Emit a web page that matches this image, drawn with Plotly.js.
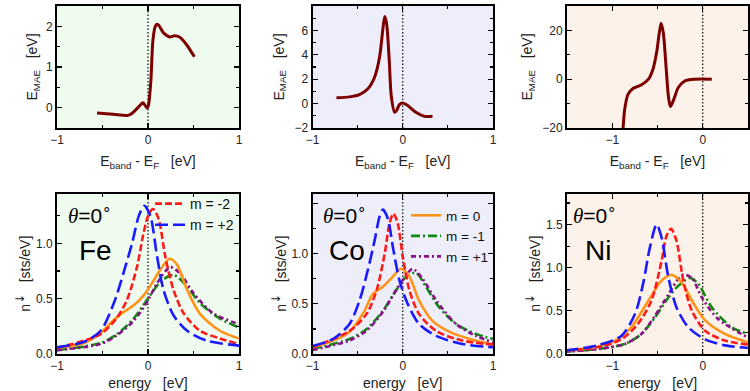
<!DOCTYPE html>
<html>
<head>
<meta charset="utf-8">
<script src="https://cdn.plot.ly/plotly-3.0.1.min.js"></script>
<style>html,body{margin:0;padding:0;background:#fff}#chart{width:750px;height:391px}</style>
</head>
<body>
<div id="chart"></div>
<script>
// ---- Top row: E_MAE vs E_band - E_F ----
const feMaeX = [-0.56,-0.385,-0.22,-0.17,-0.09,-0.055,-0.03,-0.01,0.005,0.03,0.055,0.08,0.1,0.12,0.17,0.24,0.29,0.35,0.42,0.51];
const feMaeY = [-0.13,-0.16,-0.19,-0.13,0.05,0.12,0.05,-0.01,0.06,0.61,1.68,2.0,2.05,2.02,1.84,1.74,1.77,1.73,1.56,1.25];
const coMaeX = [-0.735,-0.59,-0.48,-0.386,-0.31,-0.255,-0.225,-0.2,-0.18,-0.15,-0.127,-0.09,-0.065,-0.037,0,0.055,0.145,0.24,0.33];
const coMaeY = [0.47,0.55,0.74,1.21,2.2,3.9,5.8,7.13,6.6,3.6,0.6,-0.71,-0.52,-0.08,0.05,-0.16,-0.71,-1.04,-1.04];
const niMaeX = [-0.895,-0.88,-0.862,-0.825,-0.77,-0.68,-0.6,-0.55,-0.51,-0.48,-0.46,-0.436,-0.406,-0.38,-0.358,-0.325,-0.27,-0.196,-0.085,0.1];
const niMaeY = [-26,-19.7,-12.2,-6.1,-3.8,-2.4,0,4.1,10.9,19,22.9,19,5.4,-6.8,-11.2,-8.8,-3.4,-0.7,0,0];

// ---- Bottom row: n_down vs energy ----
// Fe
const feP2X = [-1,-0.70,-0.52,-0.375,-0.27,-0.175,-0.10,-0.04,0.025,0.1,0.17,0.28,0.43,0.645,1];
const feP2Y = [0.06,0.11,0.21,0.46,0.73,1.0,1.25,1.34,1.25,0.88,0.58,0.35,0.21,0.12,0.076];
const feM2X = [-1,-0.52,-0.34,-0.23,-0.12,-0.047,0.007,0.055,0.117,0.19,0.28,0.39,0.57,0.79,1];
const feM2Y = [0.055,0.18,0.33,0.49,0.79,1.1,1.26,1.31,1.22,0.88,0.58,0.37,0.21,0.14,0.09];
const fe0X = [-1,-0.70,-0.52,-0.41,-0.3,-0.157,-0.047,0.044,0.135,0.237,0.317,0.43,0.57,0.79,1];
const fe0Y = [0.055,0.1,0.19,0.28,0.36,0.44,0.53,0.64,0.76,0.86,0.81,0.58,0.365,0.21,0.14];
const feM1X = [-1,-0.52,-0.34,-0.157,-0.01,0.135,0.28,0.43,0.57,0.79,1];
const feM1Y = [0.035,0.1,0.18,0.32,0.49,0.65,0.715,0.61,0.46,0.32,0.24];
const feP1X = [-1,-0.52,-0.34,-0.157,-0.01,0.1,0.245,0.35,0.5,0.72,1];
const feP1Y = [0.035,0.09,0.17,0.3,0.47,0.64,0.785,0.73,0.55,0.365,0.27];
// Co
const coP2X = [-1,-0.77,-0.59,-0.48,-0.386,-0.31,-0.257,-0.22,-0.165,-0.11,-0.037,0.055,0.18,0.37,0.66,1];
const coP2Y = [0.08,0.15,0.30,0.53,0.84,1.14,1.37,1.44,1.35,1.07,0.735,0.5,0.3,0.18,0.1,0.067];
const coM2X = [-1,-0.59,-0.4,-0.29,-0.2,-0.147,-0.103,-0.055,0,0.074,0.18,0.37,0.66,1];
const coM2Y = [0.067,0.23,0.4,0.635,1.0,1.3,1.40,1.3,0.97,0.635,0.4,0.23,0.134,0.094];
const co0X = [-1,-0.77,-0.59,-0.43,-0.33,-0.22,-0.11,-0.02,0.074,0.18,0.33,0.52,0.74,1];
const co0Y = [0.067,0.134,0.22,0.42,0.6,0.67,0.77,0.85,0.77,0.535,0.33,0.22,0.15,0.094];
const coM1X = [-1,-0.59,-0.4,-0.22,-0.074,0.037,0.147,0.257,0.4,0.59,0.81,1];
const coM1Y = [0.05,0.15,0.25,0.43,0.635,0.77,0.81,0.67,0.47,0.3,0.2,0.15];
const coP1X = [-1,-0.59,-0.4,-0.22,-0.074,0.037,0.11,0.22,0.37,0.59,0.81,1];
const coP1Y = [0.04,0.134,0.234,0.42,0.635,0.785,0.85,0.75,0.535,0.3,0.18,0.117];
// Ni
const niP2X = [-1.52,-1.16,-0.9,-0.75,-0.66,-0.585,-0.51,-0.455,-0.38,-0.29,-0.16,0.026,0.25,0.5];
const niP2Y = [0.04,0.1,0.21,0.46,0.81,1.23,1.5,1.35,0.89,0.54,0.31,0.17,0.1,0.07];
const niM2X = [-1.52,-1.16,-0.9,-0.715,-0.567,-0.455,-0.4,-0.35,-0.29,-0.215,-0.12,0.026,0.25,0.5];
const niM2Y = [0.04,0.08,0.17,0.35,0.62,1.08,1.37,1.45,1.31,0.85,0.5,0.27,0.154,0.11];
const ni0X = [-1.52,-1.16,-0.97,-0.79,-0.6,-0.455,-0.345,-0.233,-0.12,0.026,0.25,0.5];
const ni0Y = [0.04,0.085,0.154,0.31,0.62,0.85,0.915,0.83,0.62,0.39,0.23,0.135];
const niM1X = [-1.52,-1.16,-0.86,-0.68,-0.53,-0.38,-0.27,-0.14,-0.048,0.1,0.32,0.5];
const niM1Y = [0.027,0.058,0.116,0.23,0.42,0.655,0.79,0.88,0.81,0.54,0.31,0.23];
const niP1X = [-1.52,-1.16,-0.86,-0.68,-0.53,-0.38,-0.27,-0.215,-0.12,-0.01,0.17,0.5];
const niP1Y = [0.027,0.058,0.116,0.23,0.44,0.69,0.87,0.92,0.88,0.655,0.405,0.19];

// tick labels of the n-down axes
const dosTickVals = [0, 0.5, 1.0, 1.5];
const dosTickText = ['0.0','0.5','1.0','1.5'];
const coDosTickText = ['0.0','0.5','1.0',''];

const legendNames = ['m = -2','m = +2','m = 0','m = -1','m = +1'];
const panelLabels = ['Fe','Co','Ni'];
const angleLabel = '<span style="font-family:Liberation Serif"><i>θ</i></span>=0<sup>∘</sup>';

const styles = {
  m2:  {color:'#ff1a1a', width:2.6, dash:'7px,3px'},
  p2:  {color:'#1a1aff', width:2.6, dash:'13px,5px'},
  z:   {color:'#ff9419', width:2.6},
  m1:  {color:'#118a11', width:2.6, dash:'9px,3px,2px,3px'},
  p1:  {color:'#8a108a', width:2.6, dash:'5px,3px,2px,3px'}
};
const maeLine = {color:'#7d0000', width:3};

function tr(x,y,xa,ya,line,name,leg,show,rank){
  const t = {x:x,y:y,xaxis:xa,yaxis:ya,type:'scatter',mode:'lines',
    line:Object.assign({shape:'spline',smoothing:0.8},line),
    name:name,showlegend:!!show,legend:leg||'legend',hoverinfo:'skip'};
  if (rank) t.legendrank = rank;
  return t;
}

const data = [
  tr(feMaeX,feMaeY,'x','y',maeLine,'Fe'),
  tr(coMaeX,coMaeY,'x2','y2',maeLine,'Co'),
  tr(niMaeX,niMaeY,'x3','y3',maeLine,'Ni'),
  // Fe
  tr(feM1X,feM1Y,'x4','y4',styles.m1,legendNames[3]),
  tr(feP1X,feP1Y,'x4','y4',styles.p1,legendNames[4]),
  tr(fe0X,fe0Y,'x4','y4',styles.z,legendNames[2]),
  tr(feM2X,feM2Y,'x4','y4',styles.m2,legendNames[0],'legend',true,1),
  tr(feP2X,feP2Y,'x4','y4',styles.p2,legendNames[1],'legend',true,2),
  // Co
  tr(coM1X,coM1Y,'x5','y5',styles.m1,legendNames[3],'legend2',true,2),
  tr(coP1X,coP1Y,'x5','y5',styles.p1,legendNames[4],'legend2',true,3),
  tr(co0X,co0Y,'x5','y5',styles.z,legendNames[2],'legend2',true,1),
  tr(coM2X,coM2Y,'x5','y5',styles.m2,legendNames[0]),
  tr(coP2X,coP2Y,'x5','y5',styles.p2,legendNames[1]),
  // Ni
  tr(niM1X,niM1Y,'x6','y6',styles.m1,legendNames[3]),
  tr(niP1X,niP1Y,'x6','y6',styles.p1,legendNames[4]),
  tr(ni0X,ni0Y,'x6','y6',styles.z,legendNames[2]),
  tr(niM2X,niM2Y,'x6','y6',styles.m2,legendNames[0]),
  tr(niP2X,niP2Y,'x6','y6',styles.p2,legendNames[1])
];

const W = 750, H = 391;
const colX = [[57,239],[312.5,493],[567,748]];
const rowTop = [6,128], rowBot = [193.5,354];
const dx = c => [colX[c][0]/W, colX[c][1]/W];
const dy = r => [1 - r[1]/H, 1 - r[0]/H];

const FONT = 'Liberation Sans, Arial, sans-serif';
const tickFont = {family:FONT, size:12, color:'#222'};
const titleFont = {family:FONT, size:14, color:'#222'};
function ax(domain, anchor, range, dtick, minor, title, standoff, extra){
  return Object.assign({domain:domain, anchor:anchor, range:range, dtick:dtick, tick0:0,
    ticks:'inside', ticklen:5, tickwidth:1.2, tickcolor:'#000',
    minor:{dtick:minor, ticks:'inside', ticklen:3, tickwidth:1.2, tickcolor:'#000', showgrid:false},
    showline:true, linewidth:2, linecolor:'#000', mirror:'ticks',
    showgrid:false, zeroline:false, tickfont:tickFont, fixedrange:true,
    title:{text:title, font:titleFont, standoff:standoff}}, extra||{});
}
const xTitleTop = 'E<sub>band</sub> - E<sub>F</sub>\u00a0\u00a0\u00a0[eV]';
const xTitleBot = 'energy\u00a0\u00a0\u00a0[eV]';
const yTitleTop = 'E<sub>MAE</sub>\u00a0\u00a0\u00a0[eV]';
const yTitleBot = 'n<sup><span style="font-family:DejaVu Sans;font-size:12px">↓</span></sup>\u00a0\u00a0\u00a0[sts/eV]';

const bgColors = ['#effbee','#eeeefb','#fdf2ea'];

const layout = {
  width:W, height:H, margin:{l:0,r:0,t:0,b:0},
  paper_bgcolor:'#fff', plot_bgcolor:'rgba(0,0,0,0)',
  showlegend:true,
  xaxis:  ax(dx(0),'y', [-1,1],1,0.5,xTitleTop,10),
  yaxis:  ax(dy(rowTop),'x', [-0.5,2.5],1,0.5,yTitleTop,5),
  xaxis2: ax(dx(1),'y2',[-1,1],1,0.5,xTitleTop,10),
  yaxis2: ax(dy(rowTop),'x2',[-2,8],2,1,yTitleTop,7),
  xaxis3: ax(dx(2),'y3',[-1.5,0.5],1,0.5,xTitleTop,10),
  yaxis3: ax(dy(rowTop),'x3',[-20,30],20,10,yTitleTop,6),
  xaxis4: ax(dx(0),'y4',[-1,1],1,0.5,xTitleBot,12),
  yaxis4: ax(dy(rowBot),'x4',[0,1.45],0.5,0.25,yTitleBot,2,{tickmode:'array',tickvals:dosTickVals,ticktext:dosTickText}),
  xaxis5: ax(dx(1),'y5',[-1,1],1,0.5,xTitleBot,12),
  yaxis5: ax(dy(rowBot),'x5',[0,1.6],0.5,0.25,yTitleBot,2,{tickmode:'array',tickvals:dosTickVals,ticktext:coDosTickText}),
  xaxis6: ax(dx(2),'y6',[-1.5,0.5],1,0.5,xTitleBot,12),
  yaxis6: ax(dy(rowBot),'x6',[0,1.86],0.5,0.25,yTitleBot,2,{tickmode:'array',tickvals:dosTickVals,ticktext:dosTickText}),
  legend: {x:150/W, y:1-188/H, xanchor:'left', yanchor:'top', bgcolor:'rgba(0,0,0,0)',
    font:{family:FONT, size:14, color:'#111'}, tracegroupgap:0, itemwidth:30},
  legend2: {x:406/W, y:1-200/H, xanchor:'left', yanchor:'top', bgcolor:'rgba(0,0,0,0)',
    font:{family:FONT, size:13.5, color:'#111'}, tracegroupgap:0, itemwidth:30},
  shapes: [], annotations: []
};
const axIds = [['x','y'],['x2','y2'],['x3','y3'],['x4','y4'],['x5','y5'],['x6','y6']];
axIds.forEach((a,i)=>{
  layout.shapes.push({type:'rect', xref:a[0]+' domain', yref:a[1]+' domain', x0:0,x1:1,y0:0,y1:1,
    fillcolor:bgColors[i%3], line:{width:0}, layer:'below'});
  layout.shapes.push({type:'line', xref:a[0], yref:a[1]+' domain', x0:0,x1:0,y0:0,y1:1,
    line:{color:'#000', width:1.2, dash:'1.5px,2px'}, layer:'below'});
});
const annX = [[66,77],[321,327],[571,583]];
[0,1,2].forEach(i=>{
  layout.annotations.push({xref:'paper', yref:'paper', x:annX[i][0]/W, y:1-214/H, xanchor:'left', yanchor:'middle',
    text:angleLabel, showarrow:false, font:{family:FONT, size:21, color:'#000'}});
  layout.annotations.push({xref:'paper', yref:'paper', x:annX[i][1]/W, y:1-250/H, xanchor:'left', yanchor:'middle',
    text:panelLabels[i], showarrow:false, font:{family:FONT, size:28, color:'#000'}});
});

Plotly.newPlot('chart', data, layout, {displayModeBar:false, staticPlot:true});
</script>
</body>
</html>
